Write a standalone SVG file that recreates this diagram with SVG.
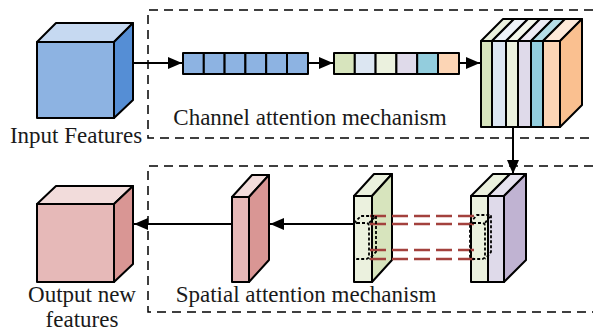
<svg xmlns="http://www.w3.org/2000/svg" width="593" height="332" viewBox="0 0 593 332">
<defs>
<style>
.o{stroke:#000;stroke-width:2;stroke-linejoin:round}
.ln{stroke:#000;stroke-width:2;fill:none}
.dash{stroke:#000;stroke-width:1.5;fill:none;stroke-dasharray:9 6}
.dot{stroke:#000;stroke-width:1.8;fill:none;stroke-dasharray:3 2}
.rd{stroke:#A3413D;stroke-width:2.5;fill:none;stroke-dasharray:16 6}
text{font-family:"Liberation Serif","Times New Roman",serif;font-size:23px;fill:#1a1a1a}
</style>
<marker id="ah" viewBox="0 0 10 10" refX="10" refY="5" markerWidth="7" markerHeight="7" markerUnits="userSpaceOnUse" orient="auto">
<path d="M0,0 L10,5 L0,10 Z" fill="#000"/>
</marker>
<marker id="ah2" viewBox="0 0 10 10" refX="10" refY="5" markerWidth="14" markerHeight="12" markerUnits="userSpaceOnUse" orient="auto" preserveAspectRatio="none">
<path d="M0,0 L10,5 L0,10 Z" fill="#000"/>
</marker>
</defs>

<g id="frames">
<path class="dash" d="M593,10 H148 V138 H593"/>
<path class="dash" d="M593,166 H148 V312 H593"/>
</g>

<g id="input-cube">
<path class="o" fill="#C6D9F1" d="M37,42 L56,23 L133,23 L114,42 Z"/>
<path class="o" fill="#558ED5" d="M114,42 L133,23 L133,100 L114,118 Z"/>
<rect class="o" fill="#8DB3E2" x="37" y="42" width="77" height="76"/>
</g>

<g id="bar1">
<rect class="o" fill="#8DB3E2" x="183" y="53" width="20.8" height="21"/>
<rect class="o" fill="#8DB3E2" x="203.8" y="53" width="20.8" height="21"/>
<rect class="o" fill="#8DB3E2" x="224.6" y="53" width="20.8" height="21"/>
<rect class="o" fill="#8DB3E2" x="245.4" y="53" width="20.8" height="21"/>
<rect class="o" fill="#8DB3E2" x="266.2" y="53" width="20.8" height="21"/>
<rect class="o" fill="#8DB3E2" x="287" y="53" width="21" height="21"/>
</g>

<g id="bar2">
<rect class="o" fill="#D7E4BD" x="334" y="53" width="20.8" height="21"/>
<rect class="o" fill="#DCE6F2" x="354.8" y="53" width="20.8" height="21"/>
<rect class="o" fill="#EBF1DE" x="375.6" y="53" width="20.8" height="21"/>
<rect class="o" fill="#DFDAEA" x="396.4" y="53" width="20.8" height="21"/>
<rect class="o" fill="#93CDDD" x="417.2" y="53" width="20.8" height="21"/>
<rect class="o" fill="#FCD5B5" x="438" y="53" width="21" height="21"/>
</g>

<g id="stack">
<path class="o" fill="#EBF1DE" d="M481,41 L503,19 L514,19 L492,41 Z"/>
<path class="o" fill="#EEF3F9" d="M492,41 L514,19 L528,19 L506,41 Z"/>
<path class="o" fill="#F3F7EC" d="M506,41 L528,19 L540,19 L518,41 Z"/>
<path class="o" fill="#EEEBF4" d="M518,41 L540,19 L553,19 L531,41 Z"/>
<path class="o" fill="#B7DEE8" d="M531,41 L553,19 L565,19 L543,41 Z"/>
<path class="o" fill="#FDE9D9" d="M543,41 L565,19 L582,19 L560,41 Z"/>
<path class="o" fill="#FAC090" d="M560,41 L582,19 L582,105 L560,127 Z"/>
<rect class="o" fill="#D7E4BD" x="481" y="41" width="11" height="86"/>
<rect class="o" fill="#DCE6F2" x="492" y="41" width="14" height="86"/>
<rect class="o" fill="#EBF1DE" x="506" y="41" width="12" height="86"/>
<rect class="o" fill="#DFDAEA" x="518" y="41" width="13" height="86"/>
<rect class="o" fill="#93CDDD" x="531" y="41" width="12" height="86"/>
<rect class="o" fill="#FCD5B5" x="543" y="41" width="17" height="86"/>
</g>

<g id="double-slab">
<path class="o" fill="#EBF1DE" d="M471,196 L493,174 L510,174 L488,196 Z"/>
<path class="o" fill="#E6E2EE" d="M488,196 L510,174 L526,174 L504,196 Z"/>
<path class="o" fill="#C0B3D2" d="M504,196 L526,174 L526,260 L504,282 Z"/>
<rect class="o" fill="#EBF1DE" x="471" y="196" width="17" height="86"/>
<rect class="o" fill="#DFDAEA" x="488" y="196" width="16" height="86"/>
</g>

<g id="green-slab">
<path class="o" fill="#EBF1DE" d="M354,196 L374,174 L392,174 L372,196 Z"/>
<path class="o" fill="#D7E4BD" d="M372,196 L392,174 L392,260 L372,282 Z"/>
<rect class="o" fill="#EBF1DE" x="354" y="196" width="18" height="86"/>
</g>

<g id="red-slab">
<path class="o" fill="#F2DCDB" d="M232,197 L252,175 L269,175 L249,197 Z"/>
<path class="o" fill="#D99694" d="M249,197 L269,175 L269,260 L249,282 Z"/>
<rect class="o" fill="#E6B9B8" x="232" y="197" width="17" height="85"/>
</g>

<g id="output-cube">
<path class="o" fill="#F2DCDB" d="M37,204 L56,186 L133,186 L114,204 Z"/>
<path class="o" fill="#D99694" d="M114,204 L133,186 L133,264 L114,282 Z"/>
<rect class="o" fill="#E6B9B8" x="37" y="204" width="77" height="78"/>
</g>

<g id="connectors">
<line class="ln" x1="133" y1="63" x2="182" y2="63" marker-end="url(#ah2)"/>
<line class="ln" x1="308" y1="63" x2="333" y2="63" marker-end="url(#ah2)"/>
<line class="ln" x1="459" y1="63" x2="480" y2="63" marker-end="url(#ah2)"/>
<line class="ln" x1="513" y1="127" x2="513" y2="174" marker-end="url(#ah2)"/>
<line class="ln" x1="354" y1="224" x2="270" y2="224" marker-end="url(#ah2)"/>
<line class="ln" x1="232" y1="224" x2="134" y2="224" marker-end="url(#ah2)"/>
<line class="rd" x1="370" y1="216" x2="478" y2="216"/>
<line class="rd" x1="370" y1="224" x2="478" y2="224"/>
<line class="rd" x1="370" y1="250" x2="478" y2="250"/>
<line class="rd" x1="370" y1="259" x2="478" y2="259"/>
</g>

<g id="dotted-boxes">
<rect class="dot" x="354" y="223" width="15" height="36" rx="3"/>
<path class="dot" d="M354,223 L361,216 L376,216 L376,252 L369,259 M369,223 L376,216"/>
<rect class="dot" x="470" y="223" width="15" height="36" rx="3"/>
<path class="dot" d="M470,223 L477,215 L491,215 L491,252 L485,259 M485,223 L491,215"/>
</g>

<g id="labels">
<text x="76" y="143" text-anchor="middle">Input Features</text>
<text x="310" y="125" text-anchor="middle">Channel attention mechanism</text>
<text x="306" y="302" text-anchor="middle">Spatial attention mechanism</text>
<text x="82" y="302" text-anchor="middle">Output new</text>
<text x="82" y="327" text-anchor="middle">features</text>
</g>
</svg>
